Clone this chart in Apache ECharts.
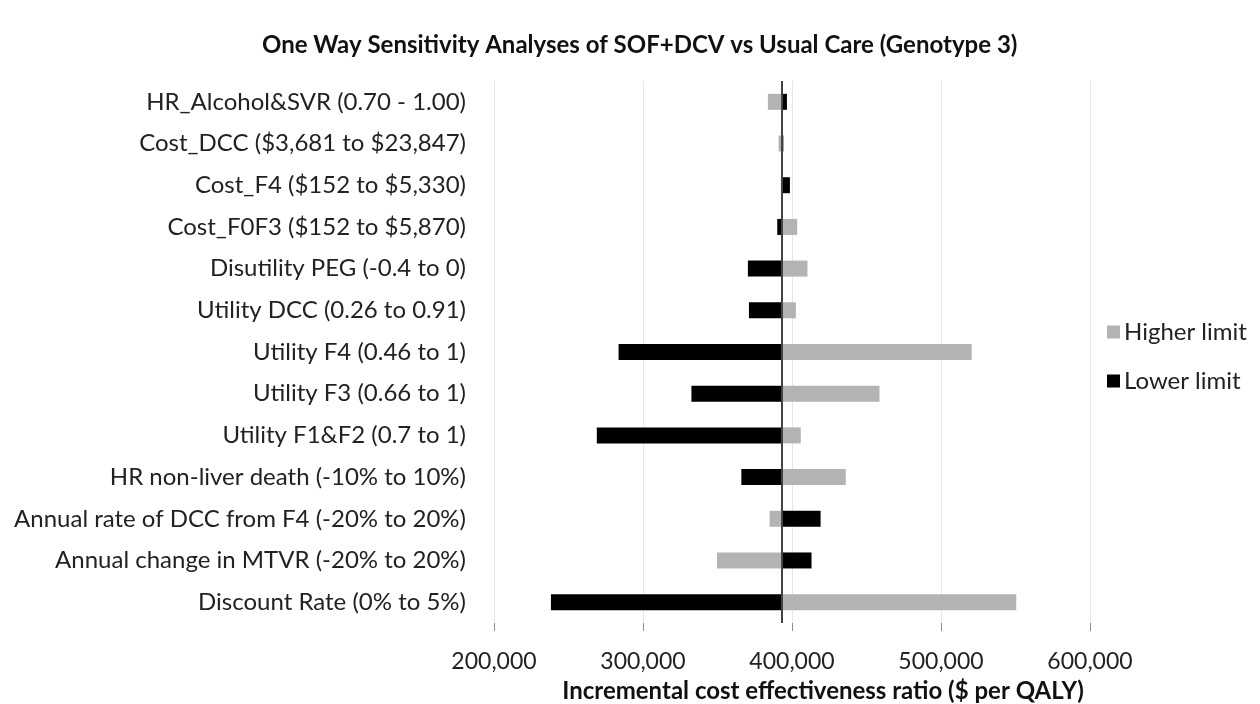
<!DOCTYPE html>
<html>
<head>
<meta charset="utf-8">
<script src="https://cdn.jsdelivr.net/npm/echarts@6/dist/echarts.min.js"></script>
<style>
  html, body { margin: 0; padding: 0; background: #fff; }
  #main { width: 1260px; height: 704px; }
</style>
</head>
<body>
<div id="main"></div>
<script>
  // parameters, top to bottom as in the figure
  var params = [
    'HR_Alcohol&SVR (0.70 - 1.00)',
    'Cost_DCC ($3,681 to $23,847)',
    'Cost_F4 ($152 to $5,330)',
    'Cost_F0F3 ($152 to $5,870)',
    'Disutility PEG (-0.4 to 0)',
    'Utility DCC (0.26 to 0.91)',
    'Utility F4 (0.46 to 1)',
    'Utility F3 (0.66 to 1)',
    'Utility F1&F2 (0.7 to 1)',
    'HR non-liver death (-10% to 10%)',
    'Annual rate of DCC from F4 (-20% to 20%)',
    'Annual change in MTVR (-20% to 20%)',
    'Discount Rate (0% to 5%)'
  ];
  // ICER at the higher / lower limit of each parameter
  var higherLimit = [383800, 391000, 392500, 403500, 410400, 402600, 520600, 458700, 405900, 436100, 385000, 349700, 550500];
  var lowerLimit  = [396600, 394200, 398600, 390100, 370400, 371100, 283600, 332500, 269000, 366000, 419200, 413100, 238200];
  var baseCase = 392900;
  var xTicks = [200000, 300000, 400000, 500000, 600000];

  var chart = echarts.init(document.getElementById('main'));
  var font = 'Lato, "Open Sans", sans-serif';

  // bars are drawn relative to the base case, axis labels add it back
  function rel(arr) {
    return arr.map(function (v) { return v - baseCase; });
  }

  chart.setOption({
    animation: false,
    title: {
      text: 'One Way Sensitivity Analyses of SOF+DCV vs Usual Care (Genotype 3)',
      left: 257,
      top: 28,
      textStyle: { fontFamily: font, fontSize: 24, fontWeight: 'bold', color: '#111' }
    },
    legend: {
      orient: 'vertical',
      left: 1102,
      top: 315,
      itemWidth: 13,
      itemHeight: 13,
      itemGap: 25,
      icon: 'rect',
      data: ['Higher limit', 'Lower limit'],
      textStyle: { fontFamily: font, fontSize: 24, color: '#222', padding: [0, 0, 0, -1] }
    },
    grid: { left: 494, top: 81, width: 596, height: 542, outerBoundsMode: 'none' },
    xAxis: {
      type: 'value',
      min: xTicks[0] - baseCase,
      max: xTicks[xTicks.length - 1] - baseCase,
      interval: 100000,
      name: 'Incremental cost effectiveness ratio ($ per QALY)',
      nameLocation: 'middle',
      nameGap: 56,
      nameTextStyle: { fontFamily: font, fontSize: 24, fontWeight: 'bold', color: '#111', padding: [0, 0, 0, 62] },
      axisLine: { onZero: false, lineStyle: { color: '#8c8c8c' } },
      axisTick: { show: true, length: 8, lineStyle: { color: '#8c8c8c' } },
      axisLabel: {
        fontFamily: font, fontSize: 23, color: '#222', margin: 27,
        formatter: function (v) { return Math.round(v + baseCase).toLocaleString('en-US'); }
      },
      splitLine: { show: true, lineStyle: { color: '#e6e6e6' } }
    },
    yAxis: {
      type: 'category',
      inverse: true,
      data: params,
      axisLine: { show: false },
      axisTick: { show: false },
      axisLabel: { fontFamily: font, fontSize: 24, color: '#222', margin: 28 }
    },
    series: [
      {
        name: 'Higher limit',
        type: 'bar',
        barWidth: 16,
        barGap: '-100%',
        itemStyle: { color: '#b3b3b3' },
        data: rel(higherLimit)
      },
      {
        name: 'Lower limit',
        type: 'bar',
        barWidth: 16,
        barGap: '-100%',
        itemStyle: { color: '#000' },
        data: rel(lowerLimit),
        markLine: {
          symbol: 'none',
          silent: true,
          label: { show: false },
          lineStyle: { color: '#444', type: 'solid', width: 2 },
          data: [{ xAxis: 0 }]
        }
      }
    ]
  });
</script>
</body>
</html>
